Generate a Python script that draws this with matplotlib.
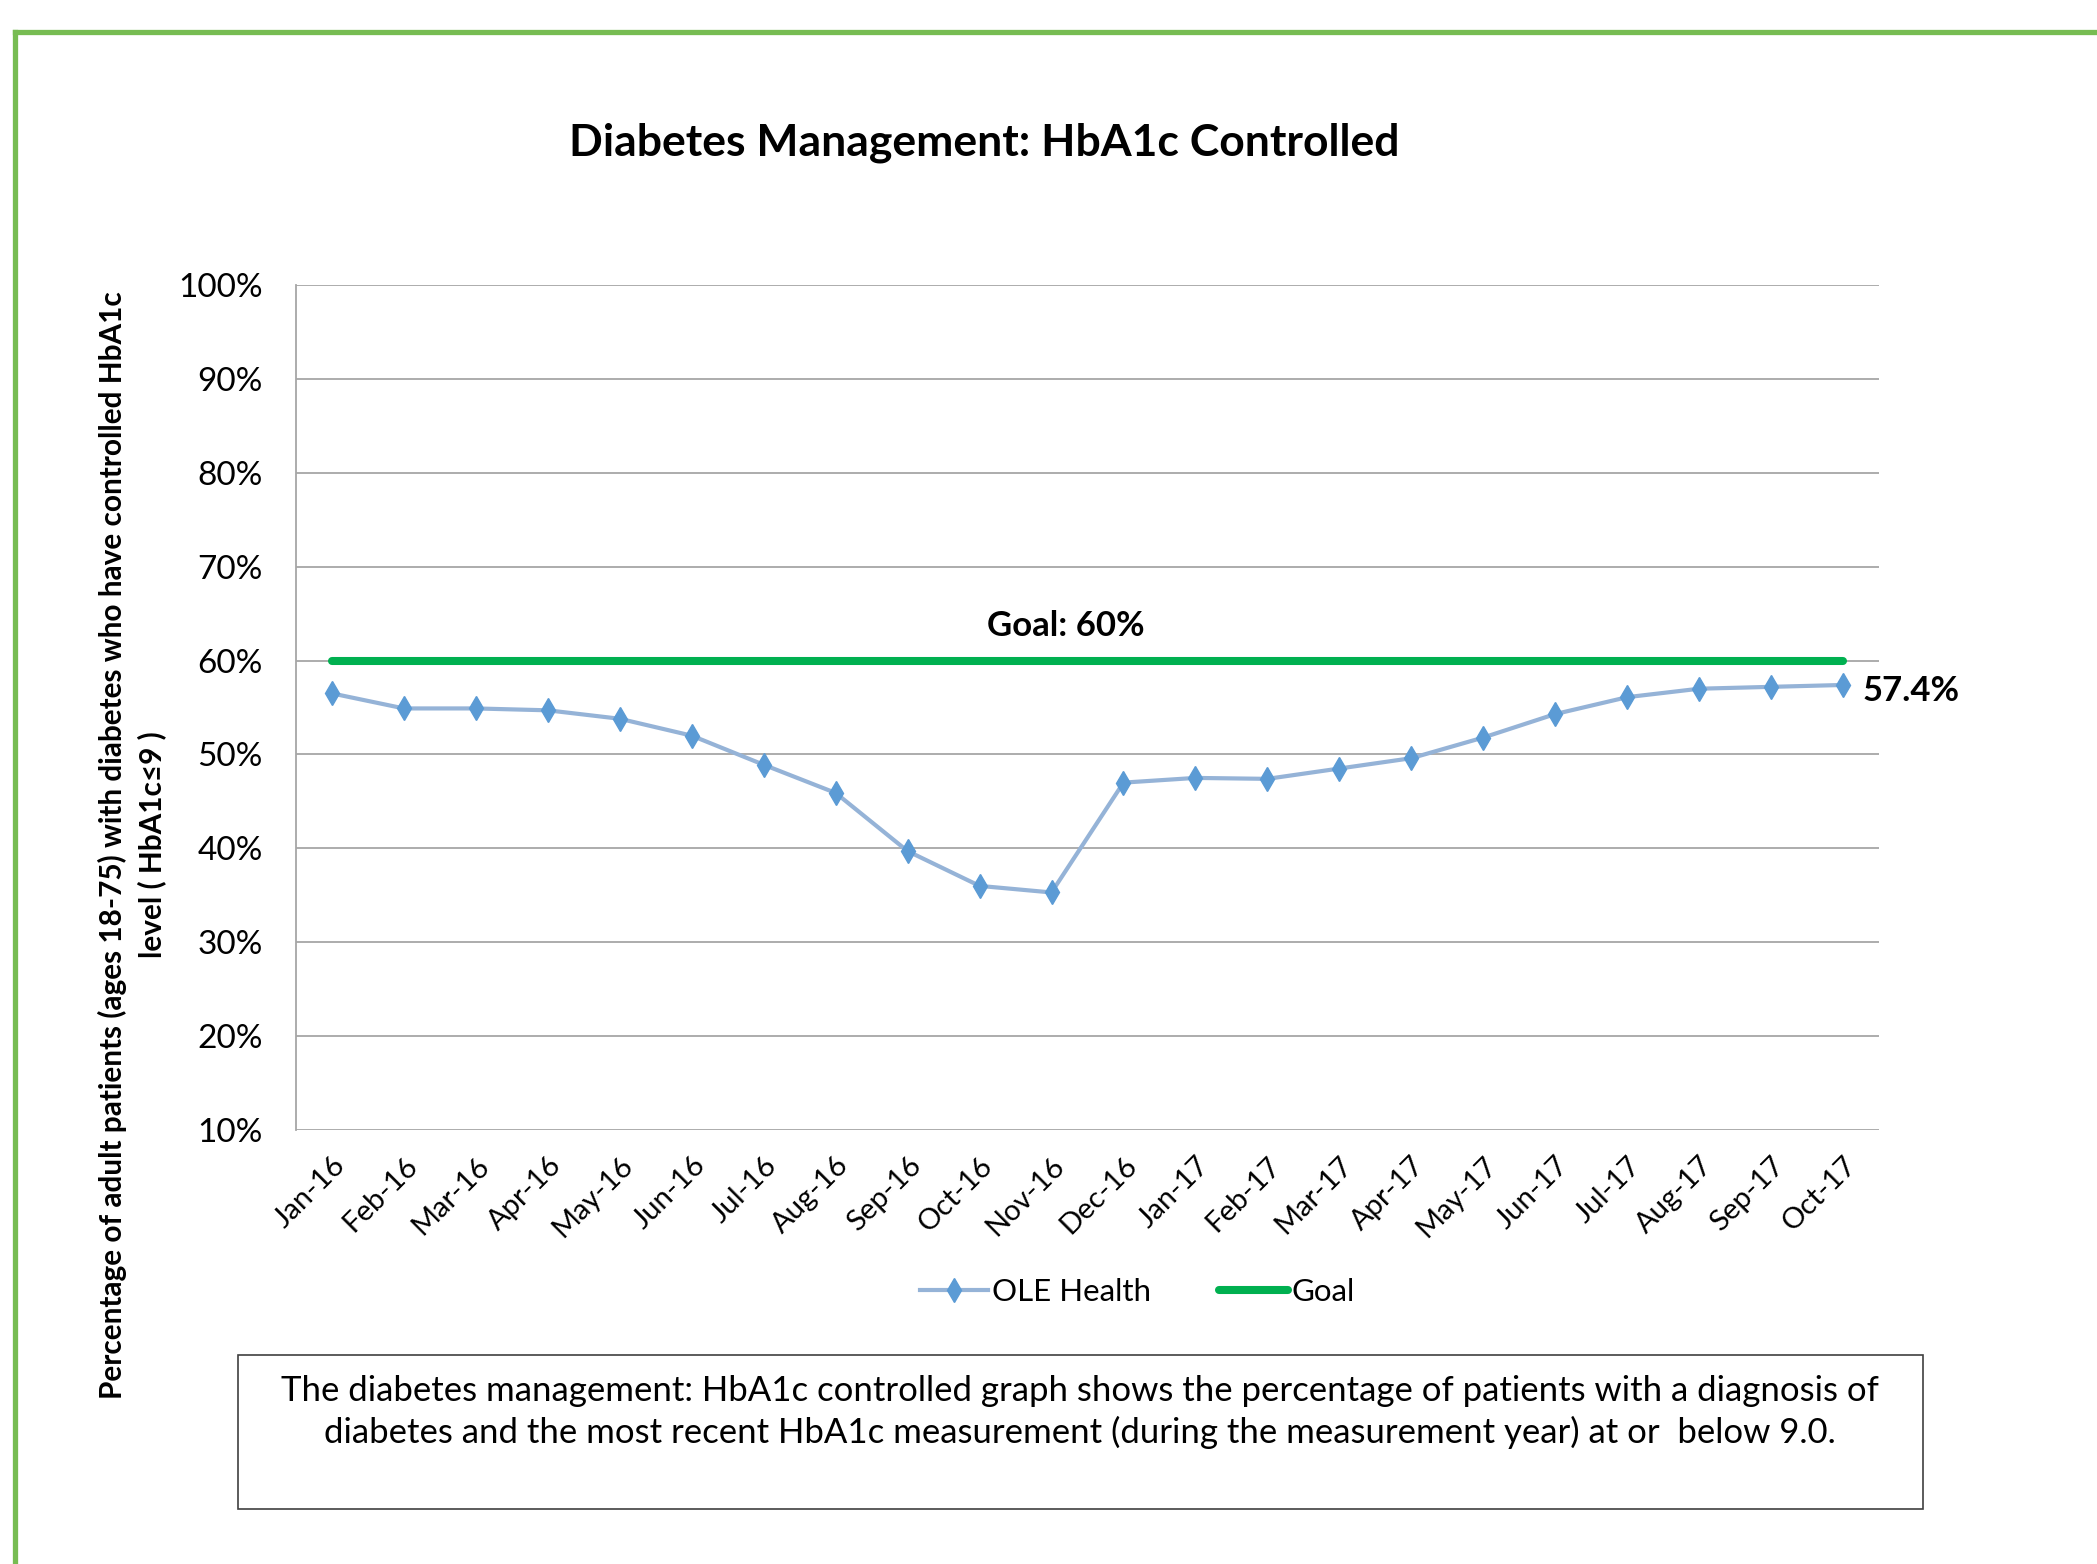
import matplotlib
matplotlib.use("Agg")
import matplotlib.pyplot as plt
from matplotlib.patches import Rectangle
from matplotlib.lines import Line2D

months = ["Jan-16", "Feb-16", "Mar-16", "Apr-16", "May-16", "Jun-16", "Jul-16",
          "Aug-16", "Sep-16", "Oct-16", "Nov-16", "Dec-16", "Jan-17", "Feb-17",
          "Mar-17", "Apr-17", "May-17", "Jun-17", "Jul-17", "Aug-17", "Sep-17", "Oct-17"]
ole_health = [56.5, 54.9, 54.9, 54.7, 53.8, 52.0, 48.9, 45.9, 39.7, 36.0, 35.3,
              47.0, 47.5, 47.4, 48.5, 49.6, 51.8, 54.3, 56.1, 57.0, 57.2, 57.4]
goal = [60.0] * len(months)
y_ticks = [10, 20, 30, 40, 50, 60, 70, 80, 90, 100]

plt.rcParams['font.family'] = ['Lato', 'DejaVu Sans']

W, H = 2097, 1564
fig = plt.figure(figsize=(W / 100, H / 100), dpi=100)

# green frame (top and left)
fig.add_artist(Line2D([15 / W, 15 / W], [0, 1 - 32 / H], color='#77BC52', lw=3.8,
                      transform=fig.transFigure, solid_capstyle='projecting'))
fig.add_artist(Line2D([15 / W, 1], [1 - 32 / H, 1 - 32 / H], color='#77BC52', lw=3.8,
                      transform=fig.transFigure, solid_capstyle='projecting'))

ax = fig.add_axes([296 / W, 1 - 1130 / H, (1879 - 296) / W, (1130 - 285) / H])
x = list(range(len(months)))

ax.plot(x, goal, color='#00B050', lw=5.8, solid_capstyle='round', zorder=3, label='Goal')
ax.plot(x, ole_health, color='#95B3D7', lw=3.0, marker='d', markersize=12,
        markerfacecolor='#5B9BD5', markeredgecolor='#5B9BD5', zorder=4, label='OLE Health')

ax.set_xlim(-0.5, len(months) - 0.5)
ax.set_ylim(10, 100)
ax.set_yticks(y_ticks)
ax.set_yticklabels([f"{v}%" for v in y_ticks], fontsize=24)
ax.set_xticks(x)
ax.set_xticklabels(months, rotation=45, ha='right', rotation_mode='anchor', fontsize=21)
ax.tick_params(axis='y', length=0, pad=24)
ax.tick_params(axis='x', length=0, pad=16)
ax.grid(axis='y', color='#A6A6A6', lw=1.3)
ax.set_axisbelow(True)
for s in ['top', 'right', 'bottom']:
    ax.spines[s].set_visible(False)
ax.spines['left'].set_color('#A6A6A6')
ax.spines['left'].set_linewidth(1.3)

ax.text(10.2, 63.7, "Goal: 60%", fontsize=25, fontweight='bold', ha='center', va='center')
ax.annotate(f"{ole_health[-1]:.1f}%", (len(months) - 1, ole_health[-1]), xytext=(14, -4),
            textcoords='offset points', fontsize=25, fontweight='bold', ha='left', va='center')

fig.text(984 / W, 1 - 143 / H, "Diabetes Management: HbA1c Controlled", fontsize=32,
         fontweight='bold', ha='center', va='center')

fig.text(132 / W, 1 - 845 / H,
         "Percentage of adult patients (ages 18-75) with diabetes who have controlled HbA1c\nlevel ( HbA1c\u22649 )",
         rotation=90, fontsize=21.4, fontweight='bold', ha='center', va='center',
         linespacing=1.4, family=['Lato', 'DejaVu Sans'])

# legend
h_ole = Line2D([], [], color='#95B3D7', lw=3.0, marker='d', markersize=12,
               markerfacecolor='#5B9BD5', markeredgecolor='#5B9BD5')
h_goal = Line2D([], [], color='#00B050', lw=5.8, solid_capstyle='round')
fig.legend([h_ole, h_goal], ["OLE Health", "Goal"], loc='center',
           bbox_to_anchor=(1137 / W, 1 - 1292 / H), ncol=2, frameon=False, fontsize=22.5,
           handlelength=2.2, handletextpad=0.1, columnspacing=2.2)

# description box
fig.add_artist(Rectangle((238 / W, 1 - 1509 / H), (1923 - 238) / W, (1509 - 1355) / H,
                         transform=fig.transFigure, fill=False, edgecolor='#404040', lw=1.2))
fig.text(1080 / W, 1 - 1412 / H,
         "The diabetes management: HbA1c controlled graph shows the percentage of patients with a diagnosis of\n"
         "diabetes and the most recent HbA1c measurement (during the measurement year) at or  below 9.0.",
         fontsize=25, ha='center', va='center', linespacing=1.3)

fig.savefig("out.png", dpi=100, facecolor='white')
